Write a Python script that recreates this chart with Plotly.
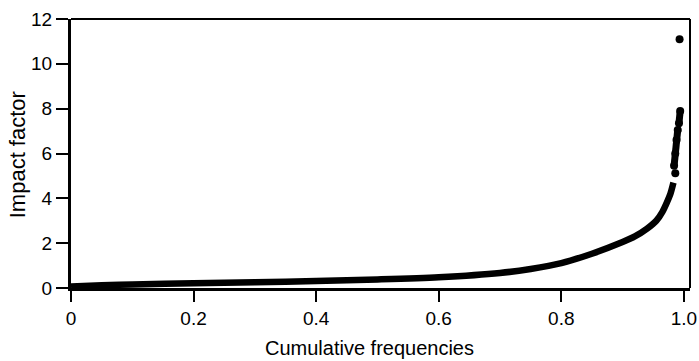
import plotly.graph_objects as go

# Main cumulative curve (cumulative frequency, impact factor)
cum_freq = [0, 0.05, 0.1, 0.2, 0.3, 0.4, 0.5, 0.6, 0.7, 0.75, 0.8, 0.85, 0.9,
            0.92, 0.94, 0.955, 0.965, 0.972, 0.978, 0.983]
impact = [0.07, 0.12, 0.16, 0.21, 0.26, 0.31, 0.38, 0.48, 0.67, 0.85, 1.11, 1.53,
          2.05, 2.3, 2.65, 3.0, 3.4, 3.8, 4.2, 4.7]

# Sparse tail of highest impact factors (None = gap between clusters)
tail_freq = [0.986, None, 0.984, 0.986, 0.988, 0.990, None, 0.992, 0.994, None, 0.993]
tail_impact = [5.12, None, 5.45, 6.0, 6.6, 7.05, None, 7.35, 7.9, None, 11.1]

x_ticks = [0, 0.2, 0.4, 0.6, 0.8, 1.0]
x_tick_labels = ["0", "0.2", "0.4", "0.6", "0.8", "1.0"]
y_ticks = [0, 2, 4, 6, 8, 10, 12]

FONT = "Liberation Sans, Arial, Helvetica, sans-serif"

fig = go.Figure()
fig.add_trace(go.Scatter(
    x=cum_freq, y=impact, mode="lines",
    line=dict(color="black", width=6.5, shape="spline", smoothing=0.8),
    hoverinfo="skip", showlegend=False,
))
fig.add_trace(go.Scatter(
    x=tail_freq, y=tail_impact, mode="lines+markers",
    line=dict(color="black", width=7), marker=dict(color="black", size=8),
    connectgaps=False, hoverinfo="skip", showlegend=False,
))

fig.update_layout(
    width=699, height=361,
    margin=dict(l=71, r=9, t=19, b=73, autoexpand=False),
    paper_bgcolor="white", plot_bgcolor="white",
    font=dict(family=FONT, size=19, color="black"),
    xaxis=dict(range=[0, 1.01], tickvals=x_ticks, ticktext=x_tick_labels,
               showgrid=False, zeroline=False, showline=True, linecolor="black",
               linewidth=3, ticks="outside", ticklen=11, tickwidth=2,
               tickcolor="black", automargin=False),
    yaxis=dict(range=[0, 12], tickvals=y_ticks, showgrid=False, zeroline=False,
               showline=True, linecolor="black", linewidth=3, ticks="outside",
               ticklen=12, tickwidth=2, tickcolor="black", automargin=False),
    shapes=[
        dict(type="line", xref="paper", yref="paper", x0=0, x1=1, y0=1, y1=1,
             line=dict(color="black", width=2)),
        dict(type="line", xref="paper", yref="paper", x0=1, x1=1, y0=0, y1=1,
             line=dict(color="black", width=2)),
    ],
    annotations=[
        dict(text="Cumulative frequencies", xref="paper", yref="paper",
             x=0.482, y=-0.223, xanchor="center", yanchor="middle",
             showarrow=False, font=dict(size=20)),
        dict(text="Impact factor", xref="paper", yref="paper",
             x=-0.087, y=0.494, xanchor="center", yanchor="middle",
             textangle=-90, showarrow=False, font=dict(size=22)),
    ],
)

fig.write_html("out.html", config={"displayModeBar": False},
               post_script="document.body.style.margin='0';document.body.style.padding='0';")
